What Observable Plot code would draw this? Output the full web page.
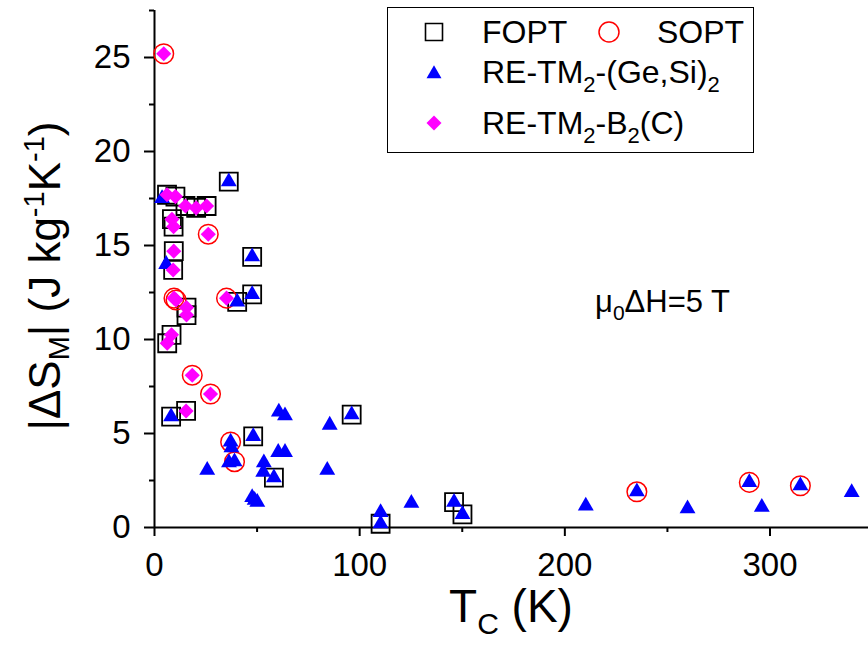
<!DOCTYPE html>
<html><head><meta charset="utf-8">
<script src="https://cdn.jsdelivr.net/npm/d3@7"></script>
<script src="https://cdn.jsdelivr.net/npm/@observablehq/plot@0.6"></script>
<style>
html,body{margin:0;padding:0;background:#fff;}
#chart{width:868px;height:646px;}
svg text{font-family:"Liberation Sans",Arial,sans-serif;}
</style></head><body><div id="chart"></div>
<script>
// RE-TM2-(Ge,Si)2 : Tc (K), |dS_M| (J/kg K), transition type (F = FOPT, S = SOPT, "" = none marked)
const geSiX = [36.2, 3.7, 5.7, 47.6, 47.6, 40.3, 8.1, 60.6, 63.6, 25.7, 37.1, 37.5, 39.0, 36.3, 48.1, 53.3, 53.0, 58.2, 47.6, 48.8, 50.1, 60.3, 63.6, 85.4, 96.1, 84.2, 110.2, 110.2, 125.2, 146.0, 150.1, 210.2, 235.1, 259.8, 289.9, 296.0, 314.8, 339.8];
const geSiY = [18.4, 17.5, 14.0, 14.4, 12.4, 12.0, 5.9, 6.15, 5.95, 3.05, 4.55, 4.25, 3.5, 3.45, 4.85, 3.45, 2.95, 2.65, 1.6, 1.45, 1.35, 4.0, 4.0, 5.45, 6.0, 3.05, 0.8, 0.2, 1.3, 1.35, 0.7, 1.15, 1.9, 1.0, 2.4, 1.08, 2.22, 1.87];
const geSiType = ["F", "", "", "F", "F", "F", "F", "", "", "", "S", "", "S", "", "F", "", "", "F", "", "", "", "", "", "", "F", "", "", "F", "", "F", "F", "", "S", "", "S", "", "S", ""];

// RE-TM2-B2(C)
const bcX = [4.5, 6.1, 10.2, 15.1, 20.3, 25.4, 8.5, 9.3, 26.2, 9.4, 9.1, 9.5, 10.5, 15.6, 15.6, 35.1, 8.3, 6.2, 18.4, 27.3, 15.4];
const bcY = [25.2, 17.7, 17.6, 17.1, 17.0, 17.1, 16.4, 16.0, 15.6, 14.7, 13.7, 12.2, 12.1, 11.7, 11.3, 12.2, 10.25, 9.8, 8.1, 7.1, 6.2];
const bcType = ["S", "F", "F", "F", "F", "F", "F", "F", "S", "F", "F", "S", "S", "F", "F", "S", "F", "F", "S", "S", "F"];

const xTicks = [0, 100, 200, 300];
const xMinor = [50, 150, 250];
const yTicks = [0, 5, 10, 15, 20, 25];
const yMinor = [2.5, 7.5, 12.5, 17.5, 22.5, 27.5];

const legendLabels = ["FOPT", "SOPT", "RE-TM2-(Ge,Si)2", "RE-TM2-B2(C)"];

const geSi = geSiX.map((x, i) => ({x, y: geSiY[i], type: geSiType[i]}));
const bc = bcX.map((x, i) => ({x, y: bcY[i], type: bcType[i]}));
const all = geSi.concat(bc);

const font = "Liberation Sans, Arial, sans-serif";

const chart = Plot.plot({
  width: 868,
  height: 646,
  marginLeft: 154,
  marginRight: 0,
  marginTop: 10,
  marginBottom: 119,
  style: {fontFamily: font, background: "white", color: "black"},
  x: {domain: [0, 348], label: null},
  y: {domain: [0, 27.5], label: null},
  marks: [
    Plot.axisX({ticks: xMinor, tickSize: 5, tickFormat: () => "", strokeWidth: 2, label: null}),
    Plot.axisY({ticks: yMinor, tickSize: 5, tickFormat: () => "", strokeWidth: 2, label: null}),
    Plot.axisX({ticks: xTicks, tickSize: 9, tickPadding: 16, strokeWidth: 2, fontSize: 33, label: null}),
    Plot.axisY({ticks: yTicks, tickSize: 10, tickPadding: 14, strokeWidth: 2, fontSize: 33, label: null}),
    Plot.ruleX([0], {stroke: "black", strokeWidth: 2}),
    Plot.ruleY([0], {stroke: "black", strokeWidth: 2}),
    Plot.dot(all.filter(d => d.type === "F"), {x: "x", y: "y", symbol: "square", r: 10.16, fill: "none", stroke: "black", strokeWidth: 1.8}),
    Plot.dot(all.filter(d => d.type === "S"), {x: "x", y: "y", symbol: "circle", r: 9.8, fill: "none", stroke: "#ff0000", strokeWidth: 1.5}),
    Plot.dot(geSi, {x: "x", y: "y", symbol: "triangle", r: 5.9, fill: "#0000ff", stroke: "none"}),
    Plot.dot(bc, {x: "x", y: "y", symbol: "diamond2", r: 6.8, fill: "#ff00ff", stroke: "none"})
  ]
});
document.getElementById("chart").appendChild(chart);

const svg = d3.select(chart);

// y-axis title
const yl = svg.append("text")
  .attr("transform", "translate(60,276) rotate(-90)")
  .attr("text-anchor", "middle")
  .attr("font-size", 44)
  .attr("fill", "black");
yl.append("tspan").text("|\u0394S");
yl.append("tspan").attr("font-size", 29).attr("dy", 9).text("M");
yl.append("tspan").attr("dy", -9).text("| (J kg");
yl.append("tspan").attr("font-size", 29).attr("dy", -16).text("-1");
yl.append("tspan").attr("dy", 16).text("K");
yl.append("tspan").attr("font-size", 29).attr("dy", -16).text("-1");
yl.append("tspan").attr("dy", 16).text(")");

// x-axis title
const xl = svg.append("text")
  .attr("x", 511).attr("y", 622)
  .attr("text-anchor", "middle")
  .attr("font-size", 46)
  .attr("fill", "black");
xl.append("tspan").text("T");
xl.append("tspan").attr("font-size", 30).attr("dy", 12).text("C");
xl.append("tspan").attr("dy", -12).text(" (K)");

// field annotation
const an = svg.append("text")
  .attr("x", 595).attr("y", 312)
  .attr("text-anchor", "start")
  .attr("font-size", 31)
  .attr("fill", "black");
an.append("tspan").text("\u03bc");
an.append("tspan").attr("font-size", 21).attr("dy", 8).text("0");
an.append("tspan").attr("dy", -8).text("\u0394H=5 T");

// legend
const lg = svg.append("g");
lg.append("rect").attr("x", 387.5).attr("y", 7.5).attr("width", 366).attr("height", 145)
  .attr("fill", "white").attr("stroke", "black").attr("stroke-width", 1);
lg.append("path").attr("transform", "translate(434,32)")
  .attr("d", d3.symbol(d3.symbolSquare, 289)()).attr("fill", "none").attr("stroke", "black").attr("stroke-width", 1.6);
lg.append("circle").attr("cx", 609).attr("cy", 32).attr("r", 10).attr("fill", "none").attr("stroke", "#ff0000").attr("stroke-width", 1.5);
lg.append("path").attr("transform", "translate(434,74)")
  .attr("d", d3.symbol(d3.symbolTriangle, 97)()).attr("fill", "#0000ff");
lg.append("path").attr("transform", "translate(434,123)")
  .attr("d", d3.symbol(d3.symbolDiamond2, 143)()).attr("fill", "#ff00ff");

function legendText(x, y, label) {
  const t = lg.append("text").attr("x", x).attr("y", y)
    .attr("text-anchor", "start").attr("font-size", 32).attr("fill", "black");
  // the digit 2 is a subscript
  const parts = label.split(/(2)/);
  let sub = false;
  parts.forEach(p => {
    if (p === "") return;
    if (p === "2") {
      t.append("tspan").attr("font-size", 22).attr("dy", sub ? 0 : 9).text("2");
      sub = true;
    } else {
      t.append("tspan").attr("dy", sub ? -9 : 0).text(p);
      sub = false;
    }
  });
}
legendText(482, 43, legendLabels[0]);
legendText(657, 43, legendLabels[1]);
legendText(482, 83, legendLabels[2]);
legendText(482, 134, legendLabels[3]);
</script>
</body></html>
